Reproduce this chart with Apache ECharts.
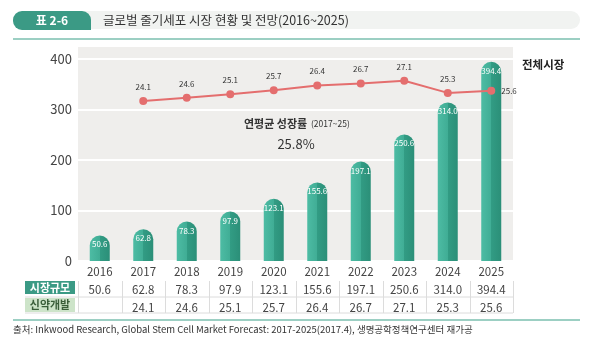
<!DOCTYPE html>
<html><head><meta charset="utf-8">
<script src="https://cdn.jsdelivr.net/npm/echarts@6/dist/echarts.min.js"></script>
<style>html,body{margin:0;padding:0;background:#fff;}#c{width:591px;height:344px;}</style>
</head><body><div id="c"></div>
<script>
const years = ['2016','2017','2018','2019','2020','2021','2022','2023','2024','2025'];
const marketSize = [50.6, 62.8, 78.3, 97.9, 123.1, 155.6, 197.1, 250.6, 314.0, 394.4];
const drugDev = [null, 24.1, 24.6, 25.1, 25.7, 26.4, 26.7, 27.1, 25.3, 25.6];
const yTicks = [0, 100, 200, 300, 400];
const rowHeaders = ['시장규모', '신약개발'];
const titleTab = '표 2-6';
const titleText = '글로벌 줄기세포 시장 현황 및 전망(2016~2025)';
const seriesLabel = '전체시장';
const cagrTitle = '연평균 성장률';
const cagrPeriod = '(2017~25)';
const cagrValue = '25.8%';
const sourceText = '출처: Inkwood Research, Global Stem Cell Market Forecast: 2017-2025(2017.4), 생명공학정책연구센터 재가공';

const FONT = '"Noto Sans CJK KR", "Noto Sans", sans-serif';
const chart = echarts.init(document.getElementById('c'));

const GL = 78, GR = 513, GT = 59, GB = 261;

const option = {
  animation: false,
  textStyle: { fontFamily: FONT },
  grid: { left: GL, right: 591 - GR, top: GT, bottom: 344 - GB, containLabel: false },
  xAxis: [
    { type: 'category', data: years, axisLine: { show: false }, axisTick: { show: false },
      axisLabel: { color: '#444', fontSize: 11.5, margin: 5, fontFamily: FONT } },
    { type: 'category', data: marketSize.map(v => v.toFixed(1)), position: 'bottom', offset: 18,
      axisLine: { show: false }, axisTick: { show: false },
      axisLabel: { color: '#444', fontSize: 11.5, margin: 5, fontFamily: FONT } },
    { type: 'category', data: drugDev.map(v => v == null ? '' : v.toFixed(1)), position: 'bottom', offset: 36,
      axisLine: { show: false }, axisTick: { show: false },
      axisLabel: { color: '#444', fontSize: 11.5, margin: 5, fontFamily: FONT } }
  ],
  yAxis: [
    { type: 'value', min: yTicks[0], max: yTicks[yTicks.length - 1], interval: 100,
      axisLine: { show: false }, axisTick: { show: false },
      axisLabel: { color: '#444', fontSize: 13, margin: 6, fontFamily: FONT },
      splitLine: { lineStyle: { color: '#ffffff', width: 2 } } },
    { type: 'value', min: 0.5, max: 30.3, show: false, splitLine: { show: false } }
  ],
  series: [
    { type: 'bar', data: marketSize, barWidth: 20, z: 3,
      itemStyle: {
        borderRadius: [10, 10, 0, 0],
        color: new echarts.graphic.LinearGradient(0, 0, 1, 0, [
          { offset: 0, color: '#4dbca4' }, { offset: 0.5, color: '#40ad95' },
          { offset: 0.5, color: '#329c84' }, { offset: 1, color: '#2b8f78' }
        ])
      },
      label: { show: true, position: 'insideTop', distance: 5, color: '#ffffff', fontSize: 8,
        formatter: p => p.value.toFixed(1), fontFamily: FONT } },
    { type: 'line', yAxisIndex: 1, z: 4,
      data: drugDev.map((v, i) => {
        if (v == null) return '-';
        if (i === drugDev.length - 1) return { value: v, label: { position: 'right', distance: 6 } };
        return v;
      }),
      symbol: 'circle', symbolSize: 8,
      lineStyle: { color: '#e46e6e', width: 2 }, itemStyle: { color: '#e46e6e' },
      label: { show: true, position: 'top', distance: 6, color: '#333', fontSize: 8,
        formatter: p => Number(p.value).toFixed(1), fontFamily: FONT },
      emphasis: { disabled: true } }
  ]
};

chart.setOption(option);

const g = [];
g.push({ type: 'rect', z: -10, silent: true, shape: { x: GL, y: 47, width: GR - GL, height: GB - 47 }, style: { fill: '#efeeec' } });
// title
g.push({ type: 'rect', z: 1, shape: { x: 80, y: 11, width: 500, height: 18, r: [0, 9, 9, 0] }, style: { fill: '#f1f3f1' } });
g.push({ type: 'rect', z: 2, shape: { x: 13, y: 11, width: 78, height: 19, r: [9, 9, 0, 9] }, style: { fill: '#3b9a85' } });
g.push({ type: 'text', z: 3, style: { text: titleTab, x: 52, y: 20.5, align: 'center', verticalAlign: 'middle', fill: '#fff', font: 'bold 12px ' + FONT } });
g.push({ type: 'text', z: 3, style: { text: titleText, x: 103, y: 20.5, verticalAlign: 'middle', fill: '#333', font: '12.5px ' + FONT } });
g.push({ type: 'line', z: 1, shape: { x1: 13, y1: 39, x2: 580, y2: 39 }, style: { stroke: '#9ccfc3', lineWidth: 2 } });
// series label
g.push({ type: 'text', style: { text: seriesLabel, x: 522, y: 65, verticalAlign: 'middle', fill: '#222', font: 'bold 11.5px ' + FONT } });
// CAGR annotation
g.push({ type: 'text', z: 5, style: { text: cagrTitle, x: 244, y: 124, verticalAlign: 'middle', fill: '#333', font: 'bold 11px ' + FONT } });
g.push({ type: 'text', z: 5, style: { text: cagrPeriod, x: 311, y: 124, verticalAlign: 'middle', fill: '#333', font: '8.5px ' + FONT } });
g.push({ type: 'text', z: 5, style: { text: cagrValue, x: 296, y: 144, align: 'center', verticalAlign: 'middle', fill: '#333', font: '13px ' + FONT } });
// table
const band = (chart.convertToPixel({ xAxisIndex: 0 }, 1) - chart.convertToPixel({ xAxisIndex: 0 }, 0));
const x0 = chart.convertToPixel({ xAxisIndex: 0 }, 0) - band / 2;
const xEnd = x0 + band * years.length;
const rowTop = 281, rowMid = 297, rowBot = 313;
g.push({ type: 'rect', shape: { x: 25, y: rowTop, width: 50, height: 13 }, style: { fill: '#3b9a85' } });
g.push({ type: 'text', style: { text: rowHeaders[0], x: 50, y: rowTop + 6.5, align: 'center', verticalAlign: 'middle', fill: '#fff', font: 'bold 11px ' + FONT } });
g.push({ type: 'rect', shape: { x: 25, y: rowMid + 1, width: 50, height: 14 }, style: { fill: '#cde4c9' } });
g.push({ type: 'text', style: { text: rowHeaders[1], x: 50, y: rowMid + 8, align: 'center', verticalAlign: 'middle', fill: '#3a5e3a', font: 'bold 11px ' + FONT } });
g.push({ type: 'line', shape: { x1: 25, y1: rowMid, x2: xEnd, y2: rowMid }, style: { stroke: '#dcdcdc', lineWidth: 1 } });
g.push({ type: 'line', shape: { x1: 25, y1: rowBot, x2: xEnd, y2: rowBot }, style: { stroke: '#dcdcdc', lineWidth: 1 } });
for (let i = 0; i <= years.length; i++) {
  const x = Math.round(x0 + band * i) + 0.5;
  g.push({ type: 'line', shape: { x1: x, y1: rowTop, x2: x, y2: rowBot }, style: { stroke: '#dcdcdc', lineWidth: 1 } });
}
g.push({ type: 'line', shape: { x1: 13, y1: 320, x2: 580, y2: 320 }, style: { stroke: '#9ccfc3', lineWidth: 2 } });
g.push({ type: 'text', style: { text: sourceText, x: 13, y: 329, verticalAlign: 'middle', fill: '#333', font: '9.5px ' + FONT } });

chart.setOption({ graphic: { elements: g } });
</script></body></html>
